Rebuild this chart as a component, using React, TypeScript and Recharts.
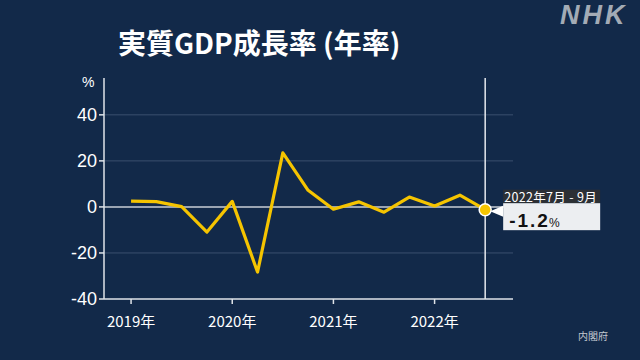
import React from "react";
import { LineChart, Line, XAxis, YAxis, ReferenceLine } from "recharts";

const quarterLabels = [
  "2019年1月 - 3月", "2019年4月 - 6月", "2019年7月 - 9月", "2019年10月 - 12月",
  "2020年1月 - 3月", "2020年4月 - 6月", "2020年7月 - 9月", "2020年10月 - 12月",
  "2021年1月 - 3月", "2021年4月 - 6月", "2021年7月 - 9月", "2021年10月 - 12月",
  "2022年1月 - 3月", "2022年4月 - 6月", "2022年7月 - 9月",
];
const growthRates = [2.5, 2.3, 0.1, -10.9, 2.4, -28.3, 23.5, 7.2, -1.0, 2.2, -2.3, 4.3, 0.4, 5.1, -1.2];
const yearTickIndex = [0, 4, 8, 12];
const yearLabels = ["2019年", "2020年", "2021年", "2022年"];
const yTicks = [-40, -20, 0, 20, 40];
const gridValues = [40, 20, -20];

const data = growthRates.map((v, i) => ({ idx: i, label: quarterLabels[i], value: v }));
const lastIdx = data.length - 1;

const BG = "#122949";
const FONT = "'Liberation Sans', 'Noto Sans CJK JP', sans-serif";
const CJK = "'Noto Sans CJK JP', 'Liberation Sans', sans-serif";

const LastDot = (props: any) => {
  const { cx, cy, index } = props;
  if (index !== lastIdx || cx == null) return <g key={"d" + index} />;
  const bx = cx + 18;
  const w = 97;
  return (
    <g key={"d" + index}>
      <polygon points={`${cx + 5},${cy + 1.5} ${bx},${cy - 4} ${bx},${cy + 7}`} fill="#ffffff" />
      <rect x={bx} y={cy - 20} width={w} height={13.5} fill="#2c3035" />
      <text x={bx + w / 2 - 1} y={cy - 13} fill="#ffffff" fontSize={12.5} fontFamily={CJK} textAnchor="middle" dominantBaseline="central" letterSpacing={0.3}>
        {data[index].label}
      </text>
      <rect x={bx} y={cy - 6.5} width={w} height={27} fill="#eceef1" />
      <text x={bx + 6} y={cy + 17} fill="#111111" fontFamily={FONT}>
        <tspan fontSize={19} fontWeight="bold" letterSpacing={2}>{data[index].value.toFixed(1)}</tspan>
        <tspan fontSize={12} dx={-1}>%</tspan>
      </text>
      <circle cx={cx} cy={cy} r={6} fill="#f5c400" stroke="#ffffff" strokeWidth={1.5} />
    </g>
  );
};

const XTick = (props: any) => {
  const { x, y, payload } = props;
  const i = yearTickIndex.indexOf(payload.value);
  return (
    <text x={x} y={y + 14} fill="#ffffff" fontSize={15} fontFamily={CJK} textAnchor="middle" dominantBaseline="central">
      {yearLabels[i]}
    </text>
  );
};

const YTick = (props: any) => {
  const { x, y, payload } = props;
  return (
    <text x={x} y={y} fill="#ffffff" fontSize={18} fontFamily={FONT} textAnchor="end" dominantBaseline="central">
      {payload.value}
    </text>
  );
};

export default function App() {
  return (
    <div style={{ position: "fixed", left: 0, top: 0, width: 640, height: 360, background: BG, overflow: "hidden" }}>
      <div style={{ position: "absolute", left: 118, top: 22, color: "#ffffff", fontFamily: CJK, fontWeight: 700, fontSize: 28, lineHeight: "40px", whiteSpace: "nowrap" }}>
        実質GDP成長率 (年率)
      </div>
      <div style={{ position: "absolute", left: 560, top: 0, color: "#a3abb5", fontFamily: FONT, fontWeight: 700, fontStyle: "italic", fontSize: 27, lineHeight: "30px", letterSpacing: 3 }}>
        NHK
      </div>
      <div style={{ position: "absolute", left: 82, top: 73, color: "#ffffff", fontFamily: FONT, fontSize: 14, lineHeight: "18px" }}>%</div>
      <div style={{ position: "absolute", left: 578, top: 329, color: "#c2c8d0", fontFamily: CJK, fontSize: 10, lineHeight: "14px" }}>内閣府</div>
      <LineChart width={640} height={360} data={data} margin={{ top: 78, right: 127, left: 44, bottom: 31 }} style={{ position: "absolute", left: 0, top: 0 }}>
        <XAxis
          dataKey="idx"
          type="number"
          domain={[-1.07, 15.1]}
          ticks={yearTickIndex}
          tick={<XTick />}
          tickSize={5}
          height={30}
          stroke="#dfe3e8"
          strokeWidth={1.5}
          tickLine={{ stroke: "#dfe3e8", strokeWidth: 1.5 }}
        />
        <YAxis
          type="number"
          domain={[-40, 56]}
          ticks={yTicks}
          tick={<YTick />}
          tickSize={5}
          width={60}
          stroke="#dfe3e8"
          strokeWidth={1.5}
          tickLine={{ stroke: "#dfe3e8", strokeWidth: 1.5 }}
        />
        {gridValues.map((g) => (
          <ReferenceLine key={g} y={g} stroke="#3b4f6e" strokeWidth={1} />
        ))}
        <ReferenceLine y={0} stroke="#c9ced6" strokeWidth={1.5} />
        <ReferenceLine x={lastIdx} stroke="#e6e9ee" strokeWidth={1.5} />
        <Line
          type="linear"
          dataKey="value"
          stroke="#f5c400"
          strokeWidth={3.2}
          strokeLinejoin="round"
          dot={<LastDot />}
          activeDot={false}
          isAnimationActive={false}
        />
      </LineChart>
    </div>
  );
}
